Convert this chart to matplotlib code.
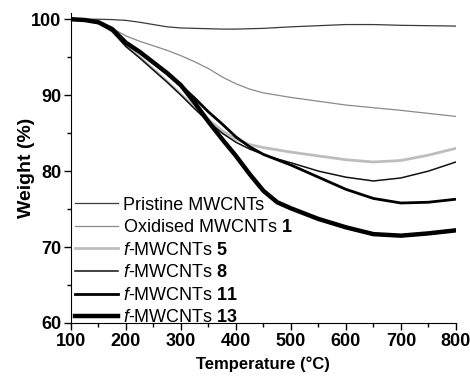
import numpy as np
import matplotlib

matplotlib.use("Agg")
import matplotlib.pyplot as plt
from matplotlib.ticker import MultipleLocator

plt.rcParams["font.family"] = ["Liberation Sans", "DejaVu Sans"]
plt.rcParams["mathtext.fontset"] = "custom"
plt.rcParams["mathtext.rm"] = "Liberation Sans"
plt.rcParams["mathtext.it"] = "Liberation Sans:italic"
plt.rcParams["mathtext.bf"] = "Liberation Sans:bold"

# temperature grid (°C)
temp = [100, 125, 150, 175, 200, 225, 250, 275, 300, 325, 350, 375, 400,
        425, 450, 475, 500, 550, 600, 650, 700, 750, 800]

pristine = [100.0, 100.0, 100.0, 99.95, 99.85, 99.6, 99.3, 99.0, 98.85, 98.8,
            98.75, 98.7, 98.7, 98.75, 98.8, 98.9, 99.0, 99.15, 99.3, 99.3,
            99.2, 99.15, 99.1]
oxidised = [100.0, 99.9, 99.6, 98.8, 97.8, 97.1, 96.5, 95.9, 95.2, 94.4,
            93.5, 92.4, 91.5, 90.8, 90.3, 90.0, 89.7, 89.2, 88.7, 88.35,
            88.0, 87.6, 87.2]
f5 = [100.0, 99.9, 99.5, 98.4, 96.5, 95.0, 93.4, 91.8, 90.1, 88.4,
      86.8, 85.3, 84.2, 83.5, 83.1, 82.8, 82.5, 82.0, 81.5, 81.2,
      81.4, 82.1, 83.0]
f8 = [100.0, 99.9, 99.5, 98.4, 96.4, 94.9, 93.3, 91.7, 90.0, 88.2,
      86.5, 85.0, 83.8, 82.9, 82.2, 81.6, 81.1, 80.0, 79.2, 78.7,
      79.1, 80.0, 81.2]
f11 = [100.0, 99.9, 99.6, 98.7, 96.9, 95.7, 94.3, 92.9, 91.3, 89.6,
       87.8, 86.2, 84.5, 83.2, 82.2, 81.5, 80.8, 79.2, 77.6, 76.4,
       75.8, 75.9, 76.3]
f13 = [100.0, 99.9, 99.6, 98.7, 96.9, 95.7, 94.3, 92.9, 91.3, 89.0,
       86.5, 84.2, 82.0, 79.6, 77.4, 75.9, 75.1, 73.7, 72.6, 71.7,
       71.5, 71.8, 72.2]

series = [
    ("Pristine MWCNTs", pristine, "#3a3a3a", 0.9),
    (r"Oxidised MWCNTs $\mathbf{1}$", oxidised, "#8a8a8a", 0.9),
    (r"$\mathit{f}$-MWCNTs $\mathbf{5}$", f5, "#bdbdbd", 2.0),
    (r"$\mathit{f}$-MWCNTs $\mathbf{8}$", f8, "#111111", 1.1),
    (r"$\mathit{f}$-MWCNTs $\mathbf{11}$", f11, "#000000", 2.0),
    (r"$\mathit{f}$-MWCNTs $\mathbf{13}$", f13, "#000000", 3.2),
]

fig = plt.figure(figsize=(4.7, 3.76), dpi=100)
ax = fig.add_axes([0.151, 0.141, 0.819, 0.824])

for label, vals, color, lw in series:
    ax.plot(temp, vals, color=color, linewidth=lw, label=label)

ax.set_xlim(100, 800)
ax.set_ylim(60, 100.8)
ax.xaxis.set_major_locator(MultipleLocator(100))
ax.xaxis.set_minor_locator(MultipleLocator(50))
ax.yaxis.set_major_locator(MultipleLocator(10))
ax.yaxis.set_minor_locator(MultipleLocator(5))
ax.tick_params(which="major", direction="out", length=5, width=1,
               labelsize=13, pad=2)
ax.tick_params(which="minor", direction="out", length=3, width=1)
for lab in ax.get_xticklabels() + ax.get_yticklabels():
    lab.set_fontweight("bold")

ax.spines["top"].set_visible(False)
ax.spines["right"].set_visible(False)

ax.set_xlabel("Temperature (°C)", fontsize=12, fontweight="bold", labelpad=5)
ax.set_ylabel("Weight (%)", fontsize=14, fontweight="bold", labelpad=-3)

ax.legend(loc="lower left", bbox_to_anchor=(0.0, -0.023), frameon=False,
          fontsize=13, handlelength=2.4, handletextpad=0.3, labelspacing=0.31,
          borderaxespad=0.1, borderpad=0.1)

fig.savefig("out.png", dpi=100)
